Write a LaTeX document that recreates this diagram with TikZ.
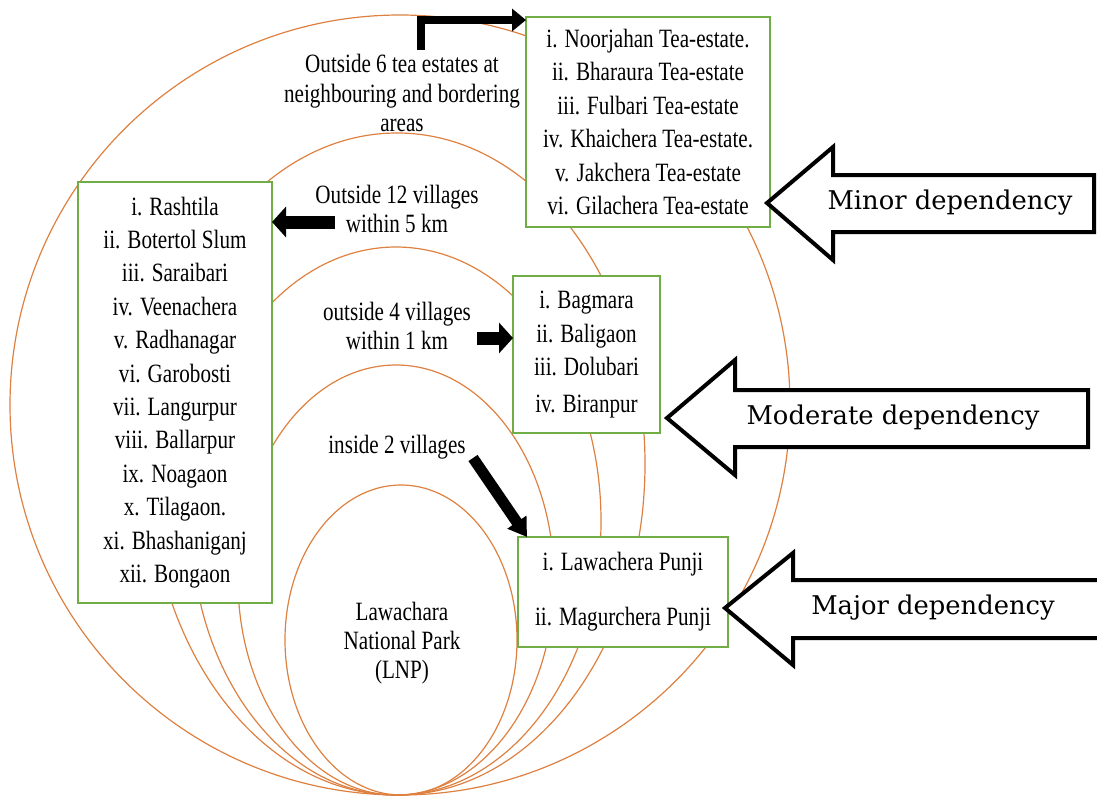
\documentclass[tikz,border=0pt]{standalone}
\usepackage{fontspec}
\setmainfont[FakeStretch=0.8]{Liberation Serif}
\newfontfamily\depfont{DejaVu Serif}
\usetikzlibrary{arrows.meta}
\definecolor{ringorange}{RGB}{222,128,64}
\definecolor{boxgreen}{RGB}{112,173,71}

\tikzset{
  ring/.style={draw=ringorange, line width=0.6pt},
  placebox/.style={draw=boxgreen, line width=0.8pt, fill=white, inner sep=0pt, outer sep=0pt, align=center, font=\fontsize{13.2}{16.7}\selectfont},
  ringlabel/.style={align=center, font=\fontsize{13.2}{14.6}\selectfont},
  fatarrow/.style={line width=6.5pt, -{Triangle[length=7pt, width=15pt]}},
  blockarrow/.style={draw=black, line width=2pt, line join=miter, fill=white},
  deplabel/.style={font=\depfont\fontsize{12.9}{15}\selectfont},
}

\begin{document}
\begin{tikzpicture}[x=0.5pt, y=-0.5pt]
        \useasboundingbox (0,0) rectangle (1097,798);
        
        % nested rings, all touching at the bottom
        \draw[ring] (400,405) ellipse [x radius=390, y radius=390];
        \draw[ring] (397,464) ellipse [x radius=248, y radius=331];
        \draw[ring] (396,521) ellipse [x radius=205, y radius=274];
        \draw[ring] (396,580) ellipse [x radius=158, y radius=215];
        \draw[ring] (401,640) ellipse [x radius=116, y radius=155];
        
        % place lists
        \node[placebox, minimum width=97pt, minimum height=210.5pt] (villbox) at (175,392.5) {i. Rashtila\\ ii. Botertol Slum\\ iii. Saraibari\\ iv. Veenachera\\ v. Radhanagar\\ vi. Garobosti\\ vii. Langurpur\\ viii. Ballarpur\\ ix. Noagaon\\ x. Tilagaon.\\ xi. Bhashaniganj\\ xii. Bongaon};
        \node[placebox, minimum width=122pt, minimum height=105pt] (teabox) at (648,122) {i. Noorjahan Tea-estate.\\ ii. Bharaura Tea-estate\\ iii. Fulbari Tea-estate\\ iv. Khaichera Tea-estate.\\ v. Jakchera Tea-estate\\ vi. Gilachera Tea-estate};
        \node[placebox, minimum width=73.5pt, minimum height=78.5pt] (bagbox) at (586.5,354.5) {i. Bagmara\\ ii. Baligaon\\ iii. Dolubari\\[1.5pt] iv. Biranpur};
        \node[placebox, minimum width=105pt, minimum height=55pt] (punjibox) at (623,592) {i. Lawachera Punji\\[10.8pt] ii. Magurchera Punji};
        
        % ring labels
        \node[ringlabel] (sixlabel) at (402,93) {Outside 6 tea estates at\\ neighbouring and bordering\\ areas};
        \node[ringlabel] (twelvelabel) at (397,209) {Outside 12 villages\\ within 5 km};
        \node[ringlabel] (fourlabel) at (397,326) {outside 4 villages\\ within 1 km};
        \node[ringlabel] (twolabel) at (397,447) {inside 2 villages};
        \node[ringlabel] (lnp) at (402,643) {Lawachara\\ National Park\\ (LNP)};
        
        % pointers
        \coordinate (sixfoot) at (421,50);
        \coordinate (fivefoot) at (335,222);
        \coordinate (onefoot) at (477,338);
        \coordinate (twofoot) at (473,458);
        \draw[line width=4.3pt, line join=miter, -{Triangle[length=7pt, width=11pt]}] (sixfoot) |- ([yshift=-1.5pt]teabox.north west);
        \draw[fatarrow] (fivefoot) -- (fivefoot -| villbox.east);
        \draw[fatarrow] (onefoot) -- (onefoot -| bagbox.west);
        \draw[line width=5.5pt, -{Triangle[length=9pt, width=11pt]}] (twofoot) -- ([xshift=4.5pt]punjibox.north west);
        
        % dependency arrows
        \draw[blockarrow] (767,203) -- (833,147) -- (833,175) -- (1094,175) -- (1094,232) -- (833,232) -- (833,260) -- cycle;
        \node[deplabel] (minor) at (950,203) {Minor dependency};
        \draw[blockarrow] (667,418) -- (735,360) -- (735,390) -- (1088,390) -- (1088,447) -- (735,447) -- (735,475) -- cycle;
        \node[deplabel] (moderate) at (893,418) {Moderate dependency};
        \draw[blockarrow] (1110,580) -- (793,580) -- (793,553) -- (725,608) -- (793,665) -- (793,638) -- (1110,638);
        \node[deplabel] (major) at (933,608) {Major dependency};
        
    \end{tikzpicture}
\end{document}
